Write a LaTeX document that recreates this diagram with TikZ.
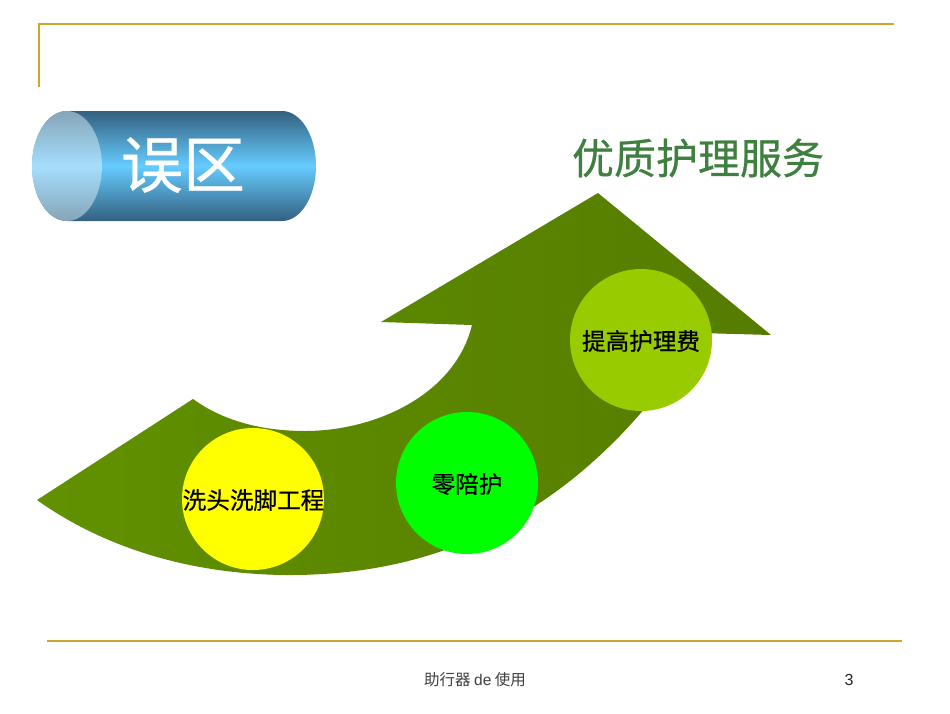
\documentclass[tikz,border=0pt]{standalone}
\usepackage{fontspec}
\setmainfont{Liberation Sans}
\newfontfamily\cjk{Noto Sans CJK SC}
\newfontfamily\cjkheavy[FakeBold=0.6]{Noto Sans CJK SC}
\definecolor{rulegold}{HTML}{CFA52B}
\definecolor{titlegreen}{HTML}{3F7F3F}
\definecolor{limefill}{HTML}{99CC00}
\definecolor{cyldark}{HTML}{33607F}
\definecolor{cylmid}{HTML}{66CCFF}
\definecolor{capdark}{HTML}{86A5B8}
\definecolor{capmid}{HTML}{A5DEFC}
\definecolor{arrowleft}{HTML}{619100}
\definecolor{arrowright}{HTML}{557C00}
\definecolor{discgreen}{HTML}{00FF00}
\definecolor{discyellow}{HTML}{FFFF00}
\tikzset{
  goldrule/.style={rulegold,line width=2pt},
  disc/.style={circle,minimum size=142pt,inner sep=0pt,text=black},
  disclabel/.style={font=\cjkheavy\fontsize{23.6}{24}\selectfont},
  footer/.style={font=\cjk\fontsize{15.5}{16}\selectfont,text=black!75}
}
\begin{document}
\begin{tikzpicture}[x=1pt,y=-1pt]
\useasboundingbox (0,0) rectangle (950,713);
\fill[white] (0,0) rectangle (950,713);
% frame rules
\coordinate (ta) at (39,87);
\coordinate (tb) at (39,24);
\coordinate (tc) at (894,24);
\draw[goldrule] (ta) -- (tb) -- (tc);
\coordinate (ba) at (47,641);
\coordinate (bb) at (902,641);
\draw[goldrule] (ba) -- (bb);
% cylinder
\path[top color=cyldark,bottom color=cyldark,middle color=cylmid]
  (67,111) -- (282,111) arc[start angle=-90,end angle=90,x radius=34,y radius=55]
  -- (67,221) arc[start angle=90,end angle=270,x radius=35,y radius=55] -- cycle;
\path[top color=capdark,bottom color=capdark,middle color=capmid]
  (32,166) arc[start angle=180,end angle=540,x radius=35,y radius=55] -- cycle;
\node[text=white,font=\cjkheavy\fontsize{62}{62}\selectfont,anchor=center] (wuqu) at (183,165) {误区};
% title
\node[text=titlegreen,font=\cjkheavy\fontsize{42}{42}\selectfont,anchor=center] (title) at (698,158) {优质护理服务};
% arrow
\path[left color=arrowleft,right color=arrowright]
  (37,500) .. controls (110,552) and (200,575) .. (290,575)
  .. controls (420,575) and (575,530) .. (700,333)
  -- (771,335) -- (598,193) -- (381,322) -- (472,325)
  .. controls (455,395) and (375,431) .. (305,431)
  .. controls (260,431) and (222,420) .. (193,399) -- cycle;
% discs
\node[disc,fill=discyellow] (d1) at (253,499) {};
\node[disc,fill=discgreen] (d2) at (467,483) {};
\node[disc,fill=limefill] (d3) at (641,340) {};
\node[disclabel] (l1) at (253.5,500) {洗头洗脚工程};
\node[disclabel] (l2) at (467,484) {零陪护};
\node[disclabel] (l3) at (641,341) {提高护理费};
% footer
\node[footer] (f1) at (475,680) {助行器\ {\fontspec{Liberation Sans}de}\ 使用};
\node[font=\fontsize{16}{16}\selectfont,text=black!85] (f2) at (849,680) {3};
\end{tikzpicture}
\end{document}
